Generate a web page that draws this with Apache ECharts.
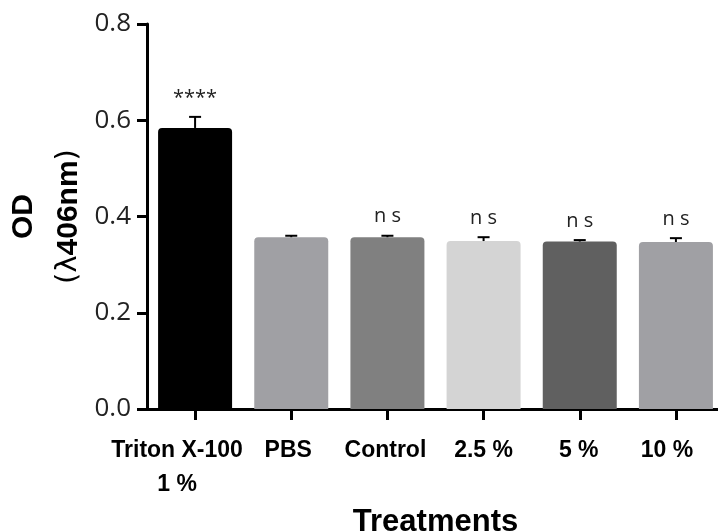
<!DOCTYPE html>
<html>
<head>
<meta charset="utf-8">
<script src="https://cdn.jsdelivr.net/npm/echarts@6/dist/echarts.min.js"></script>
<style>
    html, body { margin: 0; padding: 0; background: #fff; }
    #od-chart { width: 718px; height: 532px; }
</style>
</head>
<body>
<div id="od-chart"></div>
<script>
    // 数据
    let categories = ['Triton X-100\n1 %', 'PBS', 'Control', '2.5 %', '5 %', '10 %'];
    let odMeans = [0.584, 0.357, 0.357, 0.349, 0.348, 0.347];
    let odErrors = [0.023, 0.003, 0.003, 0.008, 0.003, 0.008];
    let marks = ['****', '', 'ns', 'ns', 'ns', 'ns'];
    let barColors = ['#000000', '#a0a0a4', '#808080', '#d4d4d4', '#606060', '#a0a0a4'];
    let yTicks = [0, 0.2, 0.4, 0.6, 0.8];
    // 标签左移 (右侧 padding)
    let labelShift = [36, 6, 4, 0, 2, 18];

    let chart = echarts.init(document.getElementById('od-chart'));

    let errData = odMeans.map(function (v, i) {
        return [i, v, odErrors[i]];
    });

    let option = {
        animation: false,
        grid: { left: 147, top: 24, right: -6, bottom: 123, containLabel: false, outerBoundsMode: 'none' },
        xAxis: {
            type: 'category',
            data: categories.map(function (c, i) {
                return { value: c, textStyle: { padding: [0, labelShift[i], 0, 0] } };
            }),
            name: 'Treatments',
            nameLocation: 'middle',
            nameGap: 88,
            nameTextStyle: { fontFamily: 'Liberation Sans', fontWeight: 'bold', fontSize: 31, color: '#000' },
            axisLine: { show: true, lineStyle: { color: '#000', width: 3 } },
            axisTick: { show: true, alignWithLabel: true, length: 11, lineStyle: { color: '#000', width: 3 } },
            axisLabel: {
                interval: 0,
                margin: 25,
                fontFamily: 'Liberation Sans',
                fontWeight: 'bold',
                fontSize: 23,
                lineHeight: 34,
                color: '#000'
            },
            splitLine: { show: false }
        },
        yAxis: {
            type: 'value',
            min: yTicks[0],
            max: yTicks[yTicks.length - 1],
            interval: 0.2,
            name: '{a|OD}\n{b|(λ}{c|406nm}{b|)}',
            nameLocation: 'middle',
            nameRotate: 90,
            nameGap: 56,
            nameTextStyle: {
                rich: {
                    a: { fontFamily: 'Liberation Sans', fontWeight: 'bold', fontSize: 30, lineHeight: 45, color: '#000' },
                    b: { fontFamily: 'DejaVu Sans', fontWeight: 'normal', fontSize: 29, lineHeight: 45, color: '#000' },
                    c: { fontFamily: 'Liberation Sans', fontWeight: 'bold', fontSize: 30, lineHeight: 45, color: '#000' }
                }
            },
            axisLine: { show: true, lineStyle: { color: '#000', width: 3 } },
            axisTick: { show: true, length: 10, lineStyle: { color: '#000', width: 3 } },
            axisLabel: {
                margin: 16,
                fontFamily: 'Open Sans',
                fontSize: 26,
                color: '#222',
                formatter: function (v) { return v.toFixed(1); }
            },
            splitLine: { show: false }
        },
        series: [
            {
                type: 'bar',
                barWidth: 74,
                data: odMeans.map(function (v, i) {
                    return { value: v, itemStyle: { color: barColors[i] } };
                }),
                itemStyle: { borderRadius: [4, 4, 0, 0] }
            },
            { // 误差线 + 显著性标注
                type: 'custom',
                data: errData,
                z: 5,
                renderItem: function (params, api) {
                    let x = api.value(0);
                    let v = api.value(1);
                    let e = api.value(2);
                    let txt = marks[params.dataIndex];
                    let base = api.coord([x, v]);
                    let top = api.coord([x, v + e]);
                    let half = 6;
                    let children = [
                        { type: 'line', shape: { x1: top[0], y1: base[1], x2: top[0], y2: top[1] }, style: { stroke: '#000', lineWidth: 2 } },
                        { type: 'line', shape: { x1: top[0] - half, y1: top[1], x2: top[0] + half, y2: top[1] }, style: { stroke: '#000', lineWidth: 2 } }
                    ];
                    if (txt) {
                        children.push({
                            type: 'text',
                            style: {
                                x: top[0],
                                y: top[1] - 19,
                                text: txt === 'ns' ? 'n s' : txt,
                                align: 'center',
                                verticalAlign: 'middle',
                                font: '20px "Open Sans"',
                                fill: '#222'
                            }
                        });
                    }
                    return { type: 'group', children: children };
                }
            }
        ]
    };
    chart.setOption(option);
</script>
</body>
</html>
